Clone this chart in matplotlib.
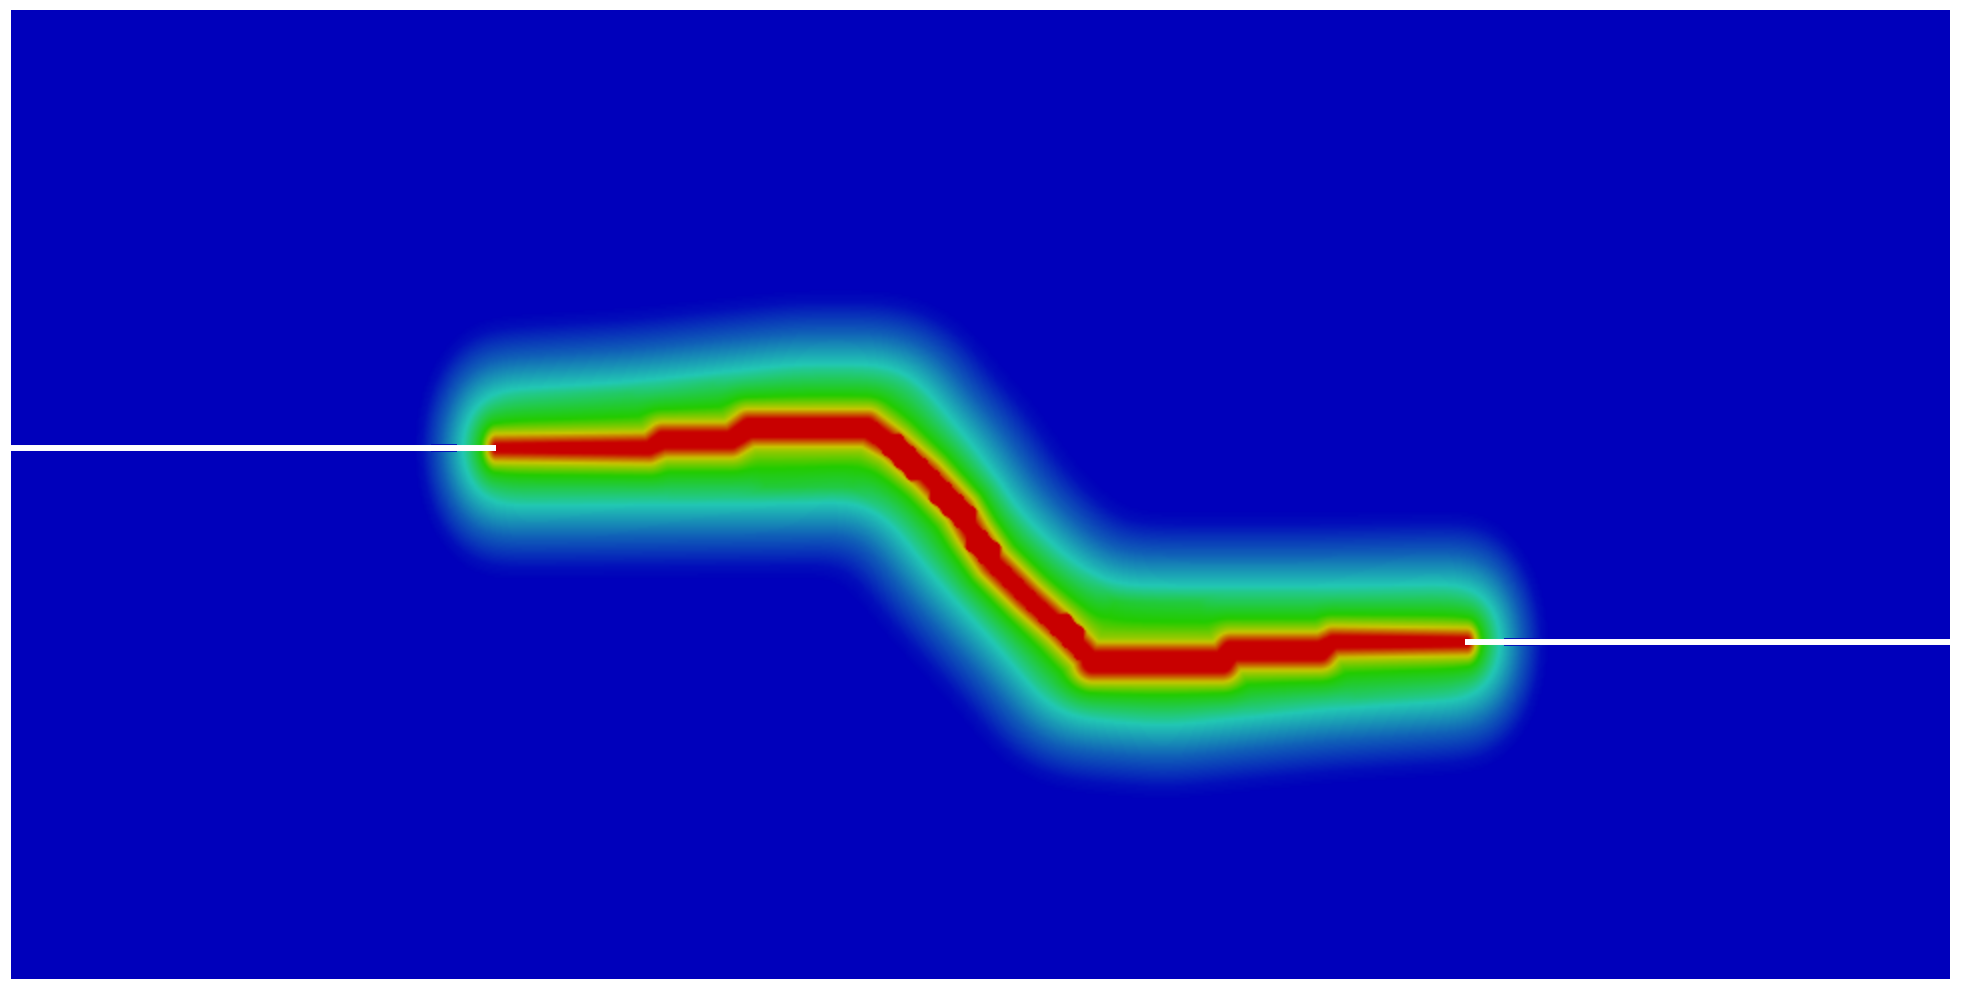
"""Phase-field crack between two offset pre-cracks, drawn from a traced crack path."""

import matplotlib

matplotlib.use("Agg")
import matplotlib.pyplot as plt
import numpy as np
from matplotlib.colors import LinearSegmentedColormap

# domain size, same scale as the picture
DOMAIN_W = 1939
DOMAIN_H = 969

# crack centre line and half width of the fully broken band
CRACK_X = [485, 638, 652, 720, 738, 856, 882, 916, 949, 962, 982, 1016, 1049, 1076, 1082, 1211, 1220, 1309, 1322, 1456]
CRACK_Y = [531, 531, 539, 539, 551, 551, 534, 504, 469, 446, 416, 382, 352, 324, 317, 317, 328, 328, 337, 337]
CRACK_HALF = [4, 6, 8, 8, 9, 9, 7, 7, 7, 7, 7, 7, 7, 7, 10, 10, 9, 9, 6, 4]

# the slanted part of the crack, where the coarse mesh shows as teeth
DIAG_X = [856, 882, 916, 949, 962, 982, 1016, 1049, 1076]
DIAG_Y = [551, 534, 504, 469, 446, 416, 382, 352, 324]
DIAG_HALF = [11, 11, 11, 11, 11, 11, 11, 11, 11]

# smoothed centre line followed by the outer contours, with its extra width
OUTER_X = [485, 629, 789, 863, 919, 964, 1019, 1079, 1154, 1309, 1456]
OUTER_Y = [531, 536, 545, 547, 499, 436, 379, 327, 323, 331, 337]
OUTER_HALF = [12, 16, 24, 22, 10, 8, 10, 22, 24, 16, 12]

# field value against distance from the band edge, read along a vertical cut
PROFILE_DIST = [0, 10, 21, 46, 78, 108, 122]
PROFILE_VALUE = [1.0, 0.75, 0.5, 0.25, 0.12, 0.02, 0.0]

# the two initial notches
NOTCH_LEFT_X = [0, 485]
NOTCH_LEFT_Y = [531, 531]
NOTCH_RIGHT_X = [1454, 1939]
NOTCH_RIGHT_Y = [337, 337]
FRINGE_LEFT_X = [420, 446]
FRINGE_RIGHT_X = [1493, 1529]

TIP_SQUEEZE = 1.6
GRID_STEP = 2.0
MESH_STEP = 12.0
BLUR_SIGMA = 10

RAINBOW = ["#0000bb", "#22c8b4", "#22cc00", "#c8c800", "#c80000"]


def polyline_distance(x, y, px, py, half):
    px = np.array(px, dtype=float)
    py = np.array(py, dtype=float)
    half = np.array(half, dtype=float)
    dist = np.full(x.shape, np.inf)
    for i in range(len(px) - 1):
        dx, dy = px[i + 1] - px[i], py[i + 1] - py[i]
        t = ((x - px[i]) * dx + (y - py[i]) * dy) / (dx * dx + dy * dy)
        t = np.clip(t, 0, 1)
        seg = np.hypot(x - px[i] - t * dx, y - py[i] - t * dy)
        seg = seg - (half[i] + t * (half[i + 1] - half[i]))
        dist = np.minimum(dist, seg)
    return dist


def blur(field, sigma):
    radius = 3 * sigma
    kernel = np.exp(-0.5 * (np.arange(-radius, radius + 1) / sigma) ** 2)
    kernel = kernel / kernel.sum()
    padded = np.pad(field, radius, mode="edge")
    padded = np.apply_along_axis(np.convolve, 0, padded, kernel, mode="same")
    padded = np.apply_along_axis(np.convolve, 1, padded, kernel, mode="same")
    return padded[radius:-radius, radius:-radius]


def mesh_teeth(xs, ys):
    # red band on the slanted part, sampled on the coarse mesh then interpolated
    mx = np.arange(0, DOMAIN_W + MESH_STEP, MESH_STEP)
    my = np.arange(0, DOMAIN_H + MESH_STEP, MESH_STEP)
    mxx, myy = np.meshgrid(mx, my)
    nodes = (polyline_distance(mxx, myy, DIAG_X, DIAG_Y, DIAG_HALF) <= 0).astype(float)
    rows = np.array([np.interp(xs, mx, row) for row in nodes])
    teeth = np.array([np.interp(ys, my, col) for col in rows.T]).T
    return np.clip(teeth * 1.8, 0, 1)


def phase_field(xs, ys):
    xx, yy = np.meshgrid(xs, ys)
    # the field falls off faster ahead of the two tips
    x0, x1 = CRACK_X[0], CRACK_X[-1]
    sx = np.where(xx < x0, x0 - (x0 - xx) * TIP_SQUEEZE, xx)
    sx = np.where(sx > x1, x1 + (sx - x1) * TIP_SQUEEZE, sx)

    inner = np.maximum(polyline_distance(sx, yy, CRACK_X, CRACK_Y, CRACK_HALF), 0)
    outer = blur(polyline_distance(sx, yy, OUTER_X, OUTER_Y, OUTER_HALF), BLUR_SIGMA)
    outer = np.maximum(outer, 0)
    weight = np.clip((inner - 12) / 38, 0, 1)
    dist = inner * (1 - weight) + outer * weight

    field = np.interp(dist, PROFILE_DIST, PROFILE_VALUE)
    return np.maximum(field, mesh_teeth(xs, ys))


def main():
    xs = np.arange(0, DOMAIN_W + GRID_STEP, GRID_STEP)
    ys = np.arange(0, DOMAIN_H + GRID_STEP, GRID_STEP)
    field = phase_field(xs, ys)

    cmap = LinearSegmentedColormap.from_list("rainbow_pf", RAINBOW)

    fig = plt.figure(figsize=(19.66, 9.94), dpi=100)
    ax = fig.add_axes([11 / 1966, 1 - 979 / 994, DOMAIN_W / 1966, DOMAIN_H / 994])
    ax.imshow(
        field,
        origin="lower",
        extent=[xs[0] - 1, xs[-1] + 1, ys[0] - 1, ys[-1] + 1],
        cmap=cmap,
        vmin=0,
        vmax=1,
        interpolation="bilinear",
        aspect="auto",
    )
    ax.plot(FRINGE_LEFT_X, NOTCH_LEFT_Y, color=RAINBOW[0], lw=5.5, solid_capstyle="butt")
    ax.plot(FRINGE_RIGHT_X, NOTCH_RIGHT_Y, color=RAINBOW[0], lw=5.5, solid_capstyle="butt")
    ax.plot(NOTCH_LEFT_X, NOTCH_LEFT_Y, color="white", lw=4.3, solid_capstyle="butt")
    ax.plot(NOTCH_RIGHT_X, NOTCH_RIGHT_Y, color="white", lw=4.3, solid_capstyle="butt")
    ax.set_xlim(0, DOMAIN_W)
    ax.set_ylim(0, DOMAIN_H)
    ax.axis("off")
    fig.savefig("out.png", dpi=100)
    plt.close(fig)


if __name__ == "__main__":
    main()
